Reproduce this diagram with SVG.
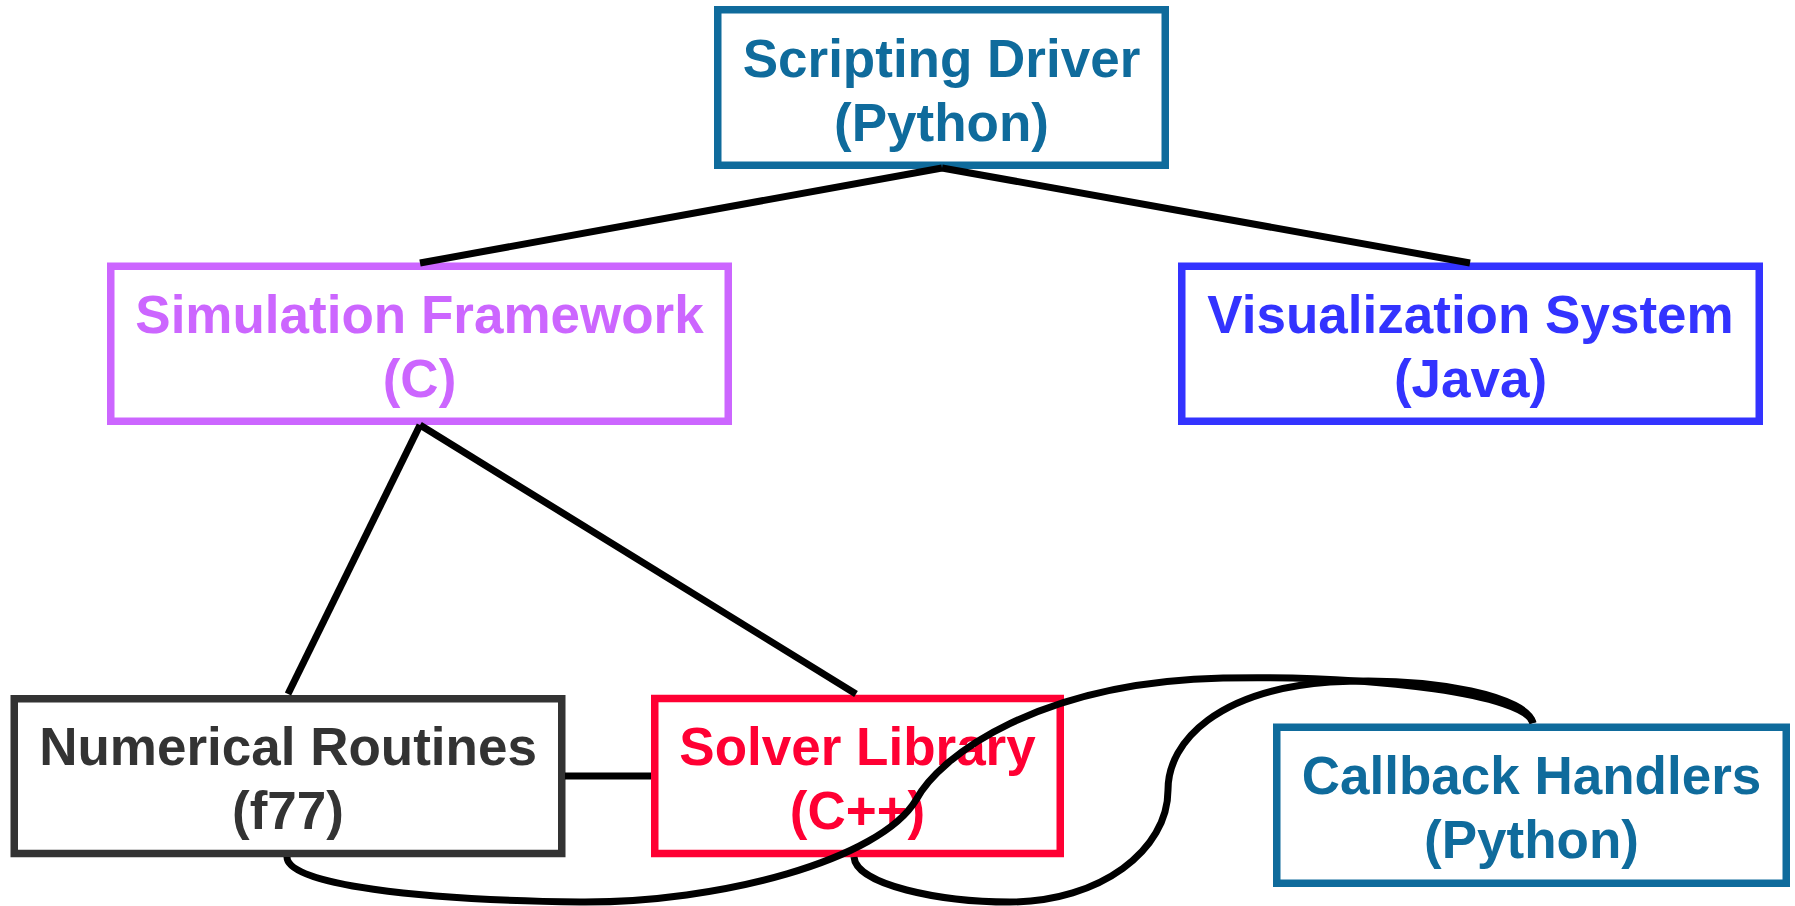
<svg xmlns="http://www.w3.org/2000/svg" width="1795" height="906" viewBox="0 0 1795 906">
  <style>
    .box { fill: #ffffff; stroke-width: 7.5; }
    .lbl { font-family: "Liberation Sans", Arial, Helvetica, sans-serif; font-size: 53px; font-weight: bold; text-anchor: middle; }
    .edge { fill: none; stroke: #000000; stroke-width: 7; stroke-linejoin: miter; }
    .python { stroke: #0f6b9c; }
    .python-t { fill: #0f6b9c; }
    .c { stroke: #cc66ff; }
    .c-t { fill: #cc66ff; }
    .java { stroke: #3333ff; }
    .java-t { fill: #3333ff; }
    .f77 { stroke: #333333; }
    .f77-t { fill: #333333; }
    .cpp { stroke: #ff0033; }
    .cpp-t { fill: #ff0033; }
  </style>
  <rect width="1795" height="906" fill="#ffffff"/>

  <g id="nodes">
    <g id="scripting-driver">
      <rect class="box python" x="717.75" y="9.75" width="447.5" height="155.5"/>
      <text class="lbl python-t" x="941.5" y="76.5">Scripting Driver</text>
      <text class="lbl python-t" x="941.5" y="140.5">(Python)</text>
    </g>
    <g id="simulation-framework">
      <rect class="box c" x="110.75" y="266.25" width="617.5" height="155"/>
      <text class="lbl c-t" x="419.5" y="332.75">Simulation Framework</text>
      <text class="lbl c-t" x="419.5" y="396.75">(C)</text>
    </g>
    <g id="visualization-system">
      <rect class="box java" x="1181.75" y="266.25" width="577.5" height="155"/>
      <text class="lbl java-t" x="1470.5" y="332.75">Visualization System</text>
      <text class="lbl java-t" x="1470.5" y="396.75">(Java)</text>
    </g>
    <g id="numerical-routines">
      <rect class="box f77" x="14.25" y="698.75" width="547.5" height="154.75"/>
      <text class="lbl f77-t" x="288" y="765">Numerical Routines</text>
      <text class="lbl f77-t" x="288" y="829">(f77)</text>
    </g>
    <g id="solver-library">
      <rect class="box cpp" x="654.75" y="698.5" width="405.5" height="155"/>
      <text class="lbl cpp-t" x="857.5" y="765">Solver Library</text>
      <text class="lbl cpp-t" x="857.5" y="829">(C++)</text>
    </g>
    <g id="callback-handlers">
      <rect class="box python" x="1276.75" y="727.25" width="509.5" height="156"/>
      <text class="lbl python-t" x="1531.5" y="794.25">Callback Handlers</text>
      <text class="lbl python-t" x="1531.5" y="858.25">(Python)</text>
    </g>
  </g>

  <g id="connectors">
    <!-- driver to its two children -->
    <path class="edge" d="M942,168 L420,263"/>
    <path class="edge" d="M942,168 L1470,263"/>
    <!-- framework to numerical routines and solver -->
    <path class="edge" d="M420,425 L288,694"/>
    <path class="edge" d="M420,425 L856,694"/>
    <!-- numerical routines to solver -->
    <path class="edge" d="M565,776 L651,776"/>
    <!-- callback edges looping back -->
    <path class="edge" d="M287,857 C287,885 420,900 580,902 C720,903 880,860 916,800 C940,755 1040,682 1223,678 C1380,675 1525,695 1533,723"/>
    <path class="edge" d="M854,857 C856,885 940,902 1010,902 C1100,902 1168,850 1168,790 C1168,740 1220,690 1330,682 C1440,676 1528,698 1533,723"/>
  </g>
</svg>
